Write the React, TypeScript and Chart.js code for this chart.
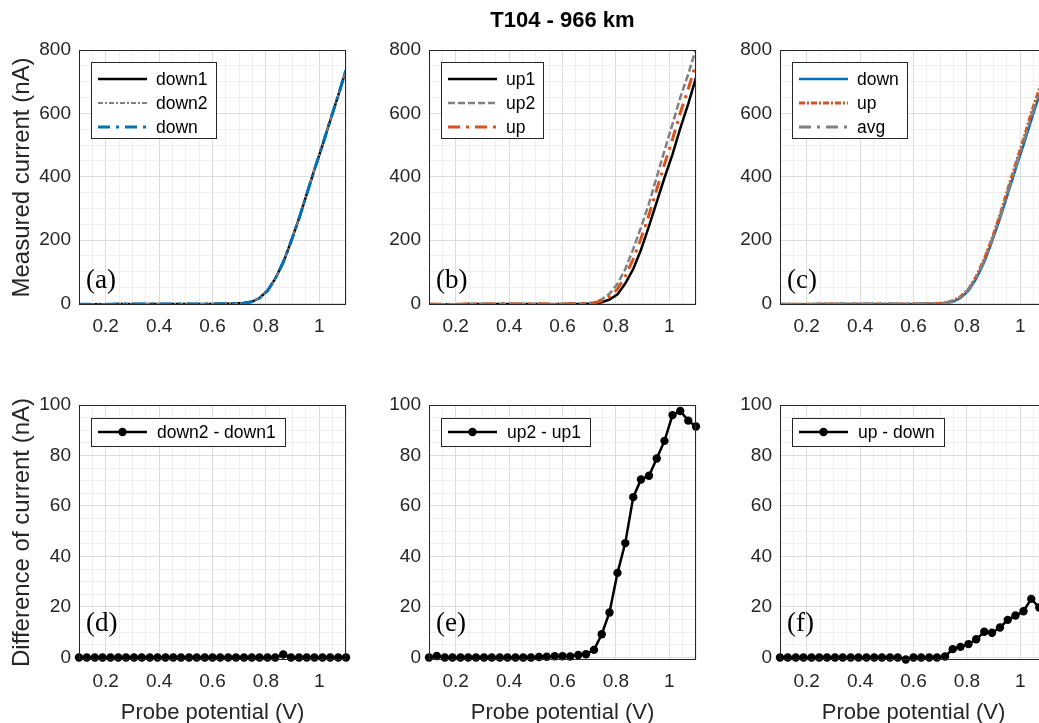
import React, { useEffect, useRef } from 'react';
import { Chart, registerables } from 'chart.js';

Chart.register(...registerables);

// ---------- data ----------
const potential = [
  0.1, 0.129, 0.159, 0.188, 0.218, 0.247, 0.276, 0.306, 0.335, 0.365,
  0.394, 0.424, 0.453, 0.482, 0.512, 0.541, 0.571, 0.6, 0.629, 0.659,
  0.688, 0.718, 0.747, 0.776, 0.806, 0.835, 0.865, 0.894, 0.924, 0.953,
  0.982, 1.012, 1.041, 1.071, 1.1,
];

const down1 = [
  -2.5, -2.4, -2.4, -2.3, -2.3, -2.2, -2.2, -2.1, -2.1, -2.0,
  -2.0, -1.9, -1.9, -1.8, -1.8, -1.7, -1.6, -1.5, -1.3, -1.0,
  -0.4, 1.0, 5, 17, 40, 78, 129.4, 195, 268, 345,
  423, 500, 578, 657, 737,
];
const down2 = [
  -2.5, -2.4, -2.4, -2.3, -2.3, -2.2, -2.2, -2.1, -2.1, -2.0,
  -2.0, -1.9, -1.9, -1.8, -1.8, -1.7, -1.6, -1.5, -1.3, -1.0,
  -0.4, 1.0, 5, 17, 40, 78, 130.6, 195, 268, 345,
  423, 500, 578, 657, 737,
];
const down = [
  -2.5, -2.4, -2.4, -2.3, -2.3, -2.2, -2.2, -2.1, -2.1, -2.0,
  -2.0, -1.9, -1.9, -1.8, -1.8, -1.7, -1.6, -1.5, -1.3, -1.0,
  -0.4, 1.0, 5, 17, 40, 78, 130, 195, 268, 345,
  423, 500, 578, 657, 737,
];
const up1 = [
  -2.5, -2.7, -2.4, -2.3, -2.3, -2.2, -2.2, -2.1, -2.1, -2.0,
  -2.0, -1.9, -1.9, -1.8, -1.9, -1.85, -2.65, -1.75, -1.5, -1.5,
  -1.05, -0.1, 3.7, 12.3, 28.6, 62.6, 108.5, 169.6, 243.9, 320.5,
  396.7, 470.3, 552.4, 629.9, 712.8,
];
const up2 = [
  -2.5, -2.1, -2.4, -2.3, -2.3, -2.2, -2.2, -2.1, -2.1, -2.0,
  -2.0, -1.9, -1.9, -1.8, -1.7, -1.55, -2.15, -1.25, -1.1, -0.5,
  0.25, 2.9, 12.9, 30.1, 62.1, 107.9, 172.0, 240.1, 315.9, 399.3,
  482.5, 566.3, 650.0, 723.7, 804.3,
];
const up = [
  -2.5, -2.4, -2.4, -2.3, -2.3, -2.2, -2.2, -2.1, -2.1, -2.0,
  -2.0, -1.9, -1.9, -1.8, -1.8, -1.7, -2.4, -1.5, -1.3, -1.0,
  -0.4, 1.4, 8.3, 21.2, 45.3, 85.2, 140.2, 204.8, 279.9, 359.9,
  439.6, 518.3, 601.2, 676.8, 758.5,
];
const avg = [
  -2.5, -2.4, -2.4, -2.3, -2.3, -2.2, -2.2, -2.1, -2.1, -2.0,
  -2.0, -1.9, -1.9, -1.8, -1.8, -1.7, -2.0, -1.5, -1.3, -1.0,
  -0.4, 1.2, 6.7, 19.1, 42.7, 81.6, 135.1, 199.9, 274.0, 352.5,
  431.3, 509.2, 589.6, 666.9, 747.8,
];
const diffDown = [
  0, 0, 0, 0, 0, 0, 0, 0, 0, 0,
  0, 0, 0, 0, 0, 0, 0, 0, 0, 0,
  0, 0, 0, 0, 0, 0, 1.2, 0, 0, 0,
  0, 0, 0, 0, 0,
];
const diffUp = [
  0, 0.6, 0, 0, 0, 0, 0, 0, 0, 0,
  0, 0, 0, 0, 0.2, 0.3, 0.5, 0.5, 0.4, 1.0,
  1.3, 3.0, 9.2, 17.8, 33.5, 45.3, 63.5, 70.5, 72.0, 78.8,
  85.8, 96.0, 97.6, 93.8, 91.5,
];
const diffUpDown = [
  0, 0, 0, 0, 0, 0, 0, 0, 0, 0,
  0, 0, 0, 0, 0, 0, -0.8, 0, 0, 0,
  0, 0.4, 3.3, 4.2, 5.3, 7.2, 10.2, 9.8, 11.9, 14.9,
  16.6, 18.3, 23.2, 19.8, 21.5,
];

// tick values
const xGridTicks = [
  0.1, 0.15, 0.2, 0.25, 0.3, 0.35, 0.4, 0.45, 0.5, 0.55, 0.6,
  0.65, 0.7, 0.75, 0.8, 0.85, 0.9, 0.95, 1, 1.05, 1.1,
];
const xMajorTicks = [0.2, 0.4, 0.6, 0.8, 1];
const yTopGridTicks = [
  0, 50, 100, 150, 200, 250, 300, 350, 400, 450, 500, 550, 600, 650, 700, 750, 800,
];
const yTopMajorTicks = [0, 200, 400, 600, 800];
const yBottomGridTicks = [
  0, 5, 10, 15, 20, 25, 30, 35, 40, 45, 50, 55, 60, 65, 70, 75, 80, 85, 90, 95, 100,
];
const yBottomMajorTicks = [0, 20, 40, 60, 80, 100];

const figureTitle = 'T104 - 966 km';
const yTitleTop = 'Measured current (nA)';
const yTitleBottom = 'Difference of current (nA)';
const xTitle = 'Probe potential (V)';

// ---------- styling ----------
const SANS = "'Liberation Sans', Arial, Helvetica, sans-serif";
const SERIF = "'Liberation Serif', 'Times New Roman', serif";
const AXIS = '#262626';
const BLUE = '#0072BD';
const ORANGE = '#D95319';
const GRAY = '#808080';
const BLACK = '#000000';
const CW = 1100;
const CH = 740;
const PW = 267;

type Series = {
  label: string;
  data: number[];
  color: string;
  width: number;
  dash: number[];
  marker?: boolean;
  order: number;
};

type Panel = {
  tag: string;
  left: number;
  top: number;
  bottom: number;
  yMin: number;
  yMax: number;
  yGrid: number[];
  yMajor: number[];
  yTitle?: string;
  xTitle?: string;
  showTitle?: boolean;
  tagBaseline: number;
  series: Series[];
};

const PANELS: Panel[] = [
  {
    tag: '(a)', left: 79, top: 50, bottom: 305, yMin: -5, yMax: 800,
    yGrid: yTopGridTicks, yMajor: yTopMajorTicks, yTitle: yTitleTop, tagBaseline: 288,
    series: [
      { label: 'down1', data: down1, color: BLACK, width: 2.5, dash: [], order: 3 },
      { label: 'down2', data: down2, color: GRAY, width: 2, dash: [5, 2, 2, 2], order: 2 },
      { label: 'down', data: down, color: BLUE, width: 3, dash: [12, 6, 3, 6], order: 1 },
    ],
  },
  {
    tag: '(b)', left: 429, top: 50, bottom: 305, yMin: -5, yMax: 800,
    yGrid: yTopGridTicks, yMajor: yTopMajorTicks, showTitle: true, tagBaseline: 288,
    series: [
      { label: 'up1', data: up1, color: BLACK, width: 2.5, dash: [], order: 3 },
      { label: 'up2', data: up2, color: GRAY, width: 2.5, dash: [7, 3], order: 2 },
      { label: 'up', data: up, color: ORANGE, width: 3, dash: [12, 6, 3, 6], order: 1 },
    ],
  },
  {
    tag: '(c)', left: 780, top: 50, bottom: 305, yMin: -5, yMax: 800,
    yGrid: yTopGridTicks, yMajor: yTopMajorTicks, tagBaseline: 288,
    series: [
      { label: 'down', data: down, color: BLUE, width: 2.5, dash: [], order: 3 },
      { label: 'up', data: up, color: ORANGE, width: 3, dash: [6, 2, 2, 2], order: 2 },
      { label: 'avg', data: avg, color: GRAY, width: 3, dash: [12, 6, 3, 6], order: 1 },
    ],
  },
  {
    tag: '(d)', left: 79, top: 405, bottom: 660, yMin: -1, yMax: 100,
    yGrid: yBottomGridTicks, yMajor: yBottomMajorTicks, yTitle: yTitleBottom, xTitle, tagBaseline: 631,
    series: [
      { label: 'down2 - down1', data: diffDown, color: BLACK, width: 2.5, dash: [], marker: true, order: 1 },
    ],
  },
  {
    tag: '(e)', left: 429, top: 405, bottom: 660, yMin: -1, yMax: 100,
    yGrid: yBottomGridTicks, yMajor: yBottomMajorTicks, xTitle, tagBaseline: 631,
    series: [
      { label: 'up2 - up1', data: diffUp, color: BLACK, width: 2.5, dash: [], marker: true, order: 1 },
    ],
  },
  {
    tag: '(f)', left: 780, top: 405, bottom: 660, yMin: -1, yMax: 100,
    yGrid: yBottomGridTicks, yMajor: yBottomMajorTicks, xTitle, tagBaseline: 631,
    series: [
      { label: 'up - down', data: diffUpDown, color: BLACK, width: 2.5, dash: [], marker: true, order: 1 },
    ],
  },
];

const isIn = (list: number[], v: number) => list.some((m) => Math.abs(m - v) < 1e-9);

function overlayPlugin(p: Panel) {
  return {
    id: 'overlay',
    afterDraw(chart: any) {
      const ctx: CanvasRenderingContext2D = chart.ctx;
      const a = chart.chartArea;
      ctx.save();
      // axes box
      ctx.setLineDash([]);
      ctx.strokeStyle = AXIS;
      ctx.lineWidth = 1;
      ctx.strokeRect(Math.round(a.left) + 0.5, Math.round(a.top) + 0.5, Math.round(a.right - a.left) - 1, Math.round(a.bottom - a.top) - 1);

      // legend
      const hasMarker = p.series.some((s) => s.marker);
      ctx.font = `17.5px ${SANS}`;
      const tw = Math.max(...p.series.map((s) => ctx.measureText(s.label).width));
      const x0 = Math.round(a.left) + 12;
      const y0 = Math.round(a.top) + (hasMarker ? 13 : 12);
      const h = hasMarker ? 28 : 76;
      const w = Math.round(65 + tw + (hasMarker ? 10 : 8));
      ctx.fillStyle = '#ffffff';
      ctx.fillRect(x0, y0, w, h);
      ctx.strokeStyle = AXIS;
      ctx.lineWidth = 1;
      ctx.strokeRect(x0 + 0.5, y0 + 0.5, w, h);
      p.series.forEach((s, i) => {
        const y = y0 + (hasMarker ? 14 : 17 + i * 24);
        ctx.setLineDash(s.dash);
        ctx.lineWidth = s.width;
        ctx.strokeStyle = s.color;
        ctx.beginPath();
        ctx.moveTo(x0 + 7, y);
        ctx.lineTo(x0 + 56, y);
        ctx.stroke();
        ctx.setLineDash([]);
        if (s.marker) {
          ctx.fillStyle = s.color;
          ctx.beginPath();
          ctx.arc(x0 + 31.5, y, 4.2, 0, Math.PI * 2);
          ctx.fill();
        }
        ctx.fillStyle = '#000000';
        ctx.textBaseline = 'middle';
        ctx.textAlign = 'left';
        ctx.fillText(s.label, x0 + (hasMarker ? 66 : 65), y + 1);
      });

      // panel tag
      ctx.font = `27px ${SERIF}`;
      ctx.fillStyle = '#000000';
      ctx.textBaseline = 'alphabetic';
      ctx.textAlign = 'left';
      ctx.fillText(p.tag, Math.round(a.left) + 7, p.tagBaseline);

      // figure title
      if (p.showTitle) {
        ctx.font = `bold 22px ${SANS}`;
        ctx.fillStyle = '#000000';
        ctx.textAlign = 'center';
        ctx.textBaseline = 'middle';
        ctx.fillText(figureTitle, (a.left + a.right) / 2, 21);
      }
      ctx.restore();
    },
  };
}

function makeConfig(p: Panel): any {
  const yW = p.yTitle ? p.left : 60;
  const xH = p.xTitle ? 66 : 60;
  return {
    type: 'line',
    data: {
      datasets: p.series.map((s) => ({
        label: s.label,
        data: potential.map((x, i) => ({ x, y: s.data[i] })),
        borderColor: s.color,
        backgroundColor: s.color,
        borderWidth: s.width,
        borderDash: s.dash,
        pointRadius: s.marker ? 4.2 : 0,
        pointHoverRadius: 0,
        pointBackgroundColor: s.color,
        pointBorderColor: s.color,
        pointBorderWidth: 0,
        tension: 0,
        fill: false,
        order: s.order,
        clip: s.marker ? 5 : undefined,
      })),
    },
    options: {
      responsive: false,
      maintainAspectRatio: false,
      animation: false,
      devicePixelRatio: 1,
      events: [],
      layout: {
        padding: {
          left: p.left - yW,
          top: p.top,
          right: CW - (p.left + PW),
          bottom: CH - p.bottom - xH,
        },
      },
      plugins: {
        legend: { display: false },
        tooltip: { enabled: false },
        title: { display: false },
      },
      scales: {
        x: {
          type: 'linear',
          min: 0.1,
          max: 1.1,
          afterBuildTicks: (s: any) => {
            s.ticks = xGridTicks.map((v) => ({ value: v }));
          },
          afterFit: (s: any) => {
            s.height = xH;
          },
          ticks: {
            autoSkip: false,
            maxRotation: 0,
            minRotation: 0,
            padding: 10,
            color: AXIS,
            font: { family: SANS, size: 19 },
            callback: (v: number) => (isIn(xMajorTicks, v) ? String(v) : ''),
          },
          grid: {
            drawTicks: false,
            lineWidth: 1,
            color: (c: any) => (c.tick && isIn(xMajorTicks, c.tick.value) ? '#dcdcdc' : '#efefef'),
          },
          border: { display: false },
          title: {
            display: !!p.xTitle,
            text: p.xTitle || '',
            color: AXIS,
            font: { family: SANS, size: 22 },
            padding: { top: 0, bottom: 0 },
          },
        },
        y: {
          type: 'linear',
          min: p.yMin,
          max: p.yMax,
          afterBuildTicks: (s: any) => {
            s.ticks = p.yGrid.map((v) => ({ value: v }));
          },
          afterFit: (s: any) => {
            s.width = yW;
          },
          ticks: {
            autoSkip: false,
            padding: 8,
            color: AXIS,
            font: { family: SANS, size: 19 },
            callback: (v: number) => (isIn(p.yMajor, v) ? String(v) : ''),
          },
          grid: {
            drawTicks: false,
            lineWidth: 1,
            color: (c: any) => (c.tick && isIn(p.yMajor, c.tick.value) ? '#dcdcdc' : '#efefef'),
          },
          border: { display: false },
          title: {
            display: !!p.yTitle,
            text: p.yTitle || '',
            color: AXIS,
            font: { family: SANS, size: 24 },
            padding: { top: 8, bottom: 0 },
          },
        },
      },
    },
    plugins: [overlayPlugin(p)],
  };
}

export default function App() {
  const refs = useRef<(HTMLCanvasElement | null)[]>([]);
  useEffect(() => {
    const charts = PANELS.map((p, i) => new Chart(refs.current[i] as HTMLCanvasElement, makeConfig(p)));
    return () => charts.forEach((c) => c.destroy());
  }, []);
  return (
    <div
      style={{
        position: 'absolute',
        left: 0,
        top: 0,
        width: 1039,
        height: 723,
        overflow: 'hidden',
        background: '#ffffff',
      }}
    >
      {PANELS.map((p, i) => (
        <canvas
          key={p.tag}
          ref={(el) => {
            refs.current[i] = el;
          }}
          width={CW}
          height={CH}
          style={{ position: 'absolute', left: 0, top: 0, width: CW, height: CH }}
        />
      ))}
    </div>
  );
}
